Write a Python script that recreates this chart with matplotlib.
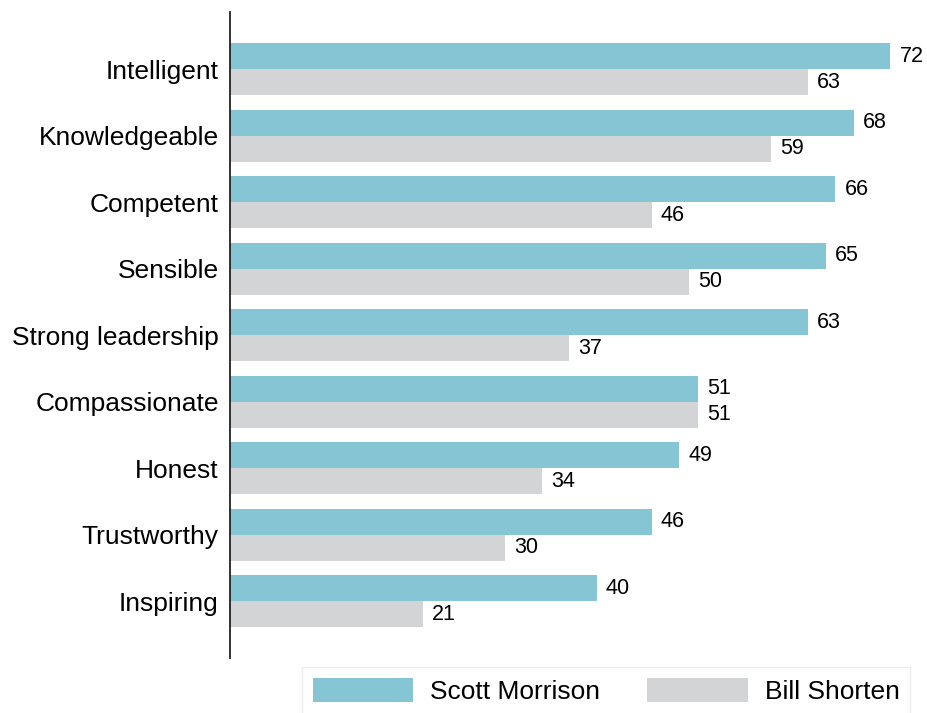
import matplotlib.pyplot as plt
import numpy as np

plt.rcParams['font.family'] = ['Liberation Sans', 'DejaVu Sans']

# attribute ratings (%)
traits = ['Intelligent', 'Knowledgeable', 'Competent', 'Sensible',
          'Strong leadership', 'Compassionate', 'Honest', 'Trustworthy',
          'Inspiring']
morrison = [72, 68, 66, 65, 63, 51, 49, 46, 40]
shorten = [63, 59, 46, 50, 37, 51, 34, 30, 21]

teal = '#86c5d3'
grey = '#d3d4d6'

fig = plt.figure(figsize=(9.27, 7.13), dpi=100)
ax = fig.add_axes([0.248, 0.077, 0.752, 0.906])

y = np.arange(len(traits))
h = 0.39
b1 = ax.barh(y - h / 2, morrison, height=h, color=teal, label='Scott Morrison')
b2 = ax.barh(y + h / 2, shorten, height=h, color=grey, label='Bill Shorten')

for bars in (b1, b2):
    for bar in bars:
        w = bar.get_width()
        ax.text(w + 1.0, bar.get_y() + bar.get_height() / 2, f'{w:.0f}',
                va='center', ha='left', fontsize=15.5)

ax.set_xlim(0, 76)
ax.set_ylim(len(traits) - 1 + 0.857, -0.857)
ax.set_yticks(y)
ax.set_yticklabels(traits, fontsize=19)
ax.set_xticks([])
ax.tick_params(axis='y', length=0, pad=8)
for s in ['top', 'right', 'bottom']:
    ax.spines[s].set_visible(False)
ax.spines['left'].set_linewidth(1.3)
ax.spines['left'].set_color('#222222')

leg = fig.legend(loc='upper left', bbox_to_anchor=(302 / 927, 1 - 667 / 713),
                 ncol=2, fontsize=19, frameon=True, fancybox=False,
                 handlelength=3.8, handleheight=1.06, columnspacing=1.8,
                 borderpad=0.4, borderaxespad=0, handletextpad=0.65)
leg.get_frame().set_edgecolor('#e8e8e8')
leg.get_frame().set_linewidth(1.0)

fig.savefig('out.png', dpi=100)
